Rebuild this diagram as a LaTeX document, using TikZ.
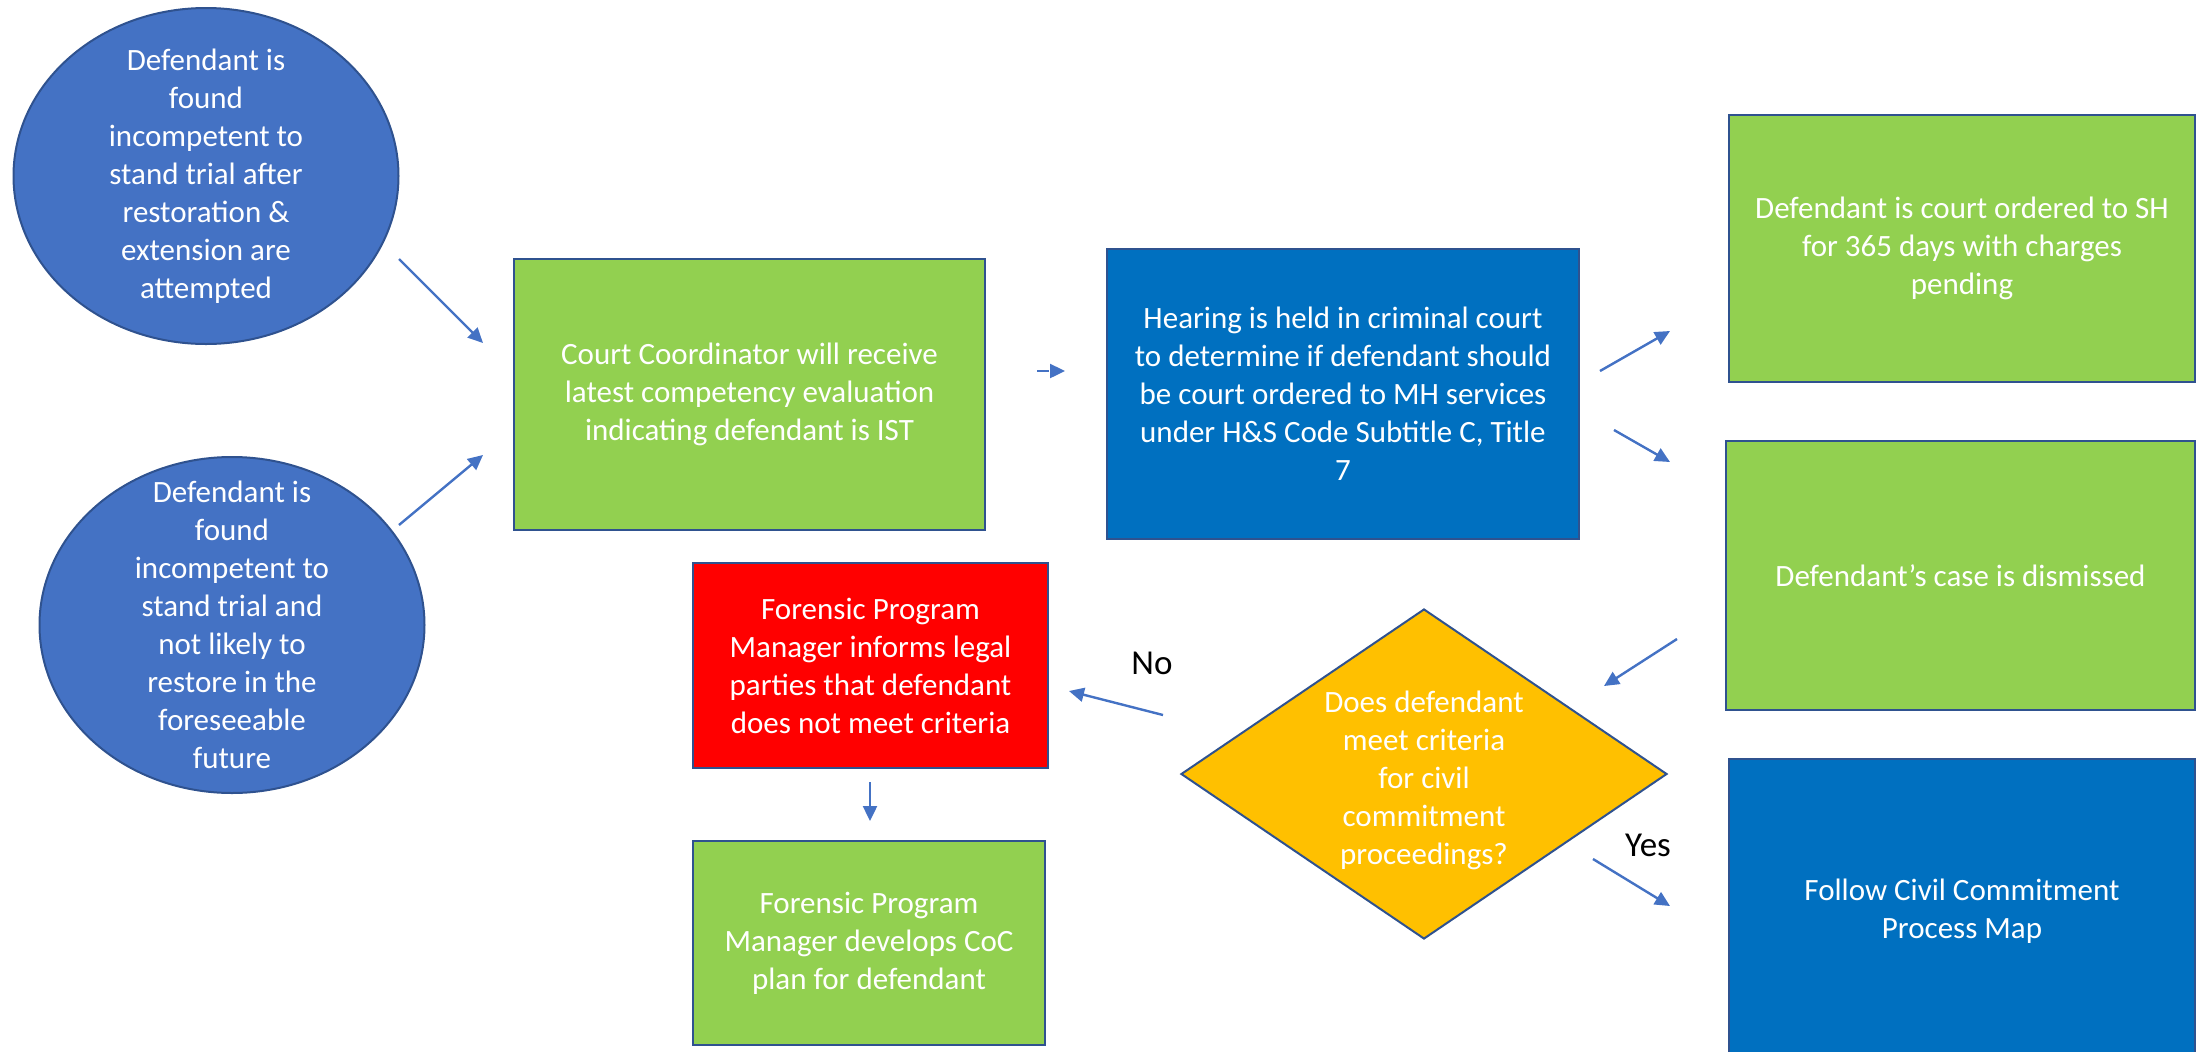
\documentclass[tikz,border=0pt]{standalone}
\usepackage{fontspec}
\setmainfont{Carlito}
\usetikzlibrary{shapes.geometric,arrows.meta}

\definecolor{obblue}{HTML}{4472C4}
\definecolor{edgeblue}{HTML}{2F528F}
\definecolor{boxgreen}{HTML}{92D050}
\definecolor{boxblue}{HTML}{0070C0}
\definecolor{boxred}{HTML}{FF0000}
\definecolor{boxgold}{HTML}{FFC000}

\tikzset{
  txt/.style={text=white, align=center, font=\fontsize{15.5}{19}\selectfont},
  box/.style={rectangle, draw=edgeblue, line width=1pt, inner sep=0pt, txt},
  blob/.style={ellipse, draw=edgeblue, line width=1pt, fill=obblue, inner sep=0pt},
  flow/.style={draw=obblue, line width=1.2pt, -{Triangle[length=7.5pt,width=7pt]}},
  answer/.style={font=\fontsize{17.5}{20}\selectfont}
}

\begin{document}
\begin{tikzpicture}[x=0.5pt,y=-0.5pt]
    \useasboundingbox (0,0) rectangle (2197,1051);

    % starting points
    \node (start1) [blob, minimum width=192.5pt, minimum height=168pt] at (206,176) {};
    \node (start1txt) [txt] at (start1) {Defendant is\\found\\incompetent to\\stand trial after\\restoration \&\\extension are\\attempted};
    \node (start2) [blob, minimum width=192.5pt, minimum height=168pt] at (232,625) {};
    \node (start2txt) [txt] at (start2) {Defendant is\\found\\incompetent to\\stand trial and\\not likely to\\restore in the\\foreseeable\\future};

    % process boxes
    \node (coord) [box, fill=boxgreen, minimum width=235.5pt, minimum height=135.5pt] at (749.5,394.5) {Court Coordinator will receive\\latest competency evaluation\\indicating defendant is IST};
    \node (hearing) [box, fill=boxblue, minimum width=236pt, minimum height=145pt] at (1343,394) {Hearing is held in criminal court\\to determine if defendant should\\be court ordered to MH services\\under H\&S Code Subtitle C, Title\\7};
    \node (ordered) [box, fill=boxgreen, minimum width=233pt, minimum height=133.5pt] at (1962,248.5) {Defendant is court ordered to SH\\for 365 days with charges\\pending};
    \node (dismissed) [box, fill=boxgreen, minimum width=234.5pt, minimum height=134.5pt] at (1960.5,575.5) {Defendant’s case is dismissed};
    \node (informs) [box, fill=boxred, minimum width=177.5pt, minimum height=102.5pt] at (870.5,665.5) {Forensic Program\\Manager informs legal\\parties that defendant\\does not meet criteria};
    \node (plan) [box, fill=boxgreen, minimum width=176pt, minimum height=102pt] at (869,943) {Forensic Program\\Manager develops CoC\\plan for defendant};
    \node (civil) [box, fill=boxblue, minimum width=233pt, minimum height=152pt] at (1962,911) {Follow Civil Commitment\\Process Map};

    % decision
    \node (decide) [diamond, draw=edgeblue, line width=1pt, fill=boxgold, inner sep=0pt, minimum width=243pt, minimum height=165pt] at (1424,774) {};
    \node (decidetxt) [txt] at (1424,780) {Does defendant\\meet criteria\\for civil\\commitment\\proceedings?};

    % arrow ends
    \coordinate (a1s) at (399,259);   \coordinate (a1e) at (483,343);
    \coordinate (a2s) at (399,525);   \coordinate (a2e) at (483,455);
    \coordinate (a3s) at (1037,371);  \coordinate (a3e) at (1065,371);
    \coordinate (a4s) at (1600,371);  \coordinate (a4e) at (1670,331);
    \coordinate (a5s) at (1614,430);  \coordinate (a5e) at (1670,462);
    \coordinate (a6s) at (1677,639);  \coordinate (a6e) at (1604,686);
    \coordinate (a7s) at (1163,715);  \coordinate (a7e) at (1069,691);
    \coordinate (a8s) at (870,782);   \coordinate (a8e) at (870,821);
    \coordinate (a9s) at (1593,859);  \coordinate (a9e) at (1670,906);

    % draw arrows
    \draw[flow] (a1s) -- (a1e);
    \draw[flow] (a2s) -- (a2e);
    \draw[flow, dash pattern=on 6pt off 3pt] (a3s) -- (a3e);
    \draw[flow] (a4s) -- (a4e);
    \draw[flow] (a5s) -- (a5e);
    \draw[flow] (a6s) -- (a6e);
    \draw[flow] (a7s) -- (a7e);
    \draw[flow] (a8s) -- (a8e);
    \draw[flow] (a9s) -- (a9e);

    % answers
    \node (no) [answer] at (1152,663) {No};
    \node (yes) [answer] at (1648,845) {Yes};
\end{tikzpicture}
\end{document}
